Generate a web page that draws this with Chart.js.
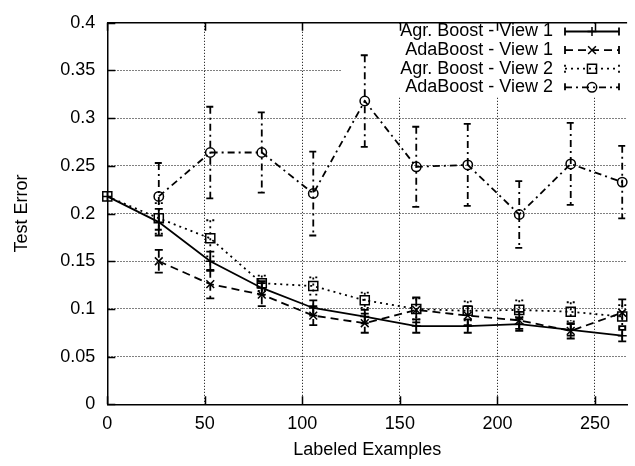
<!DOCTYPE html>
<html>
<head>
<meta charset="utf-8">
<script src="https://cdn.jsdelivr.net/npm/chart.js@4.4.1/dist/chart.umd.min.js"></script>
<style>
  html, body { margin: 0; padding: 0; background: #fff; }
  #wrap { width: 635px; height: 466px; }
</style>
</head>
<body>
<div id="wrap"><canvas id="chart" width="635" height="466"></canvas></div>
<script>
// number of labeled examples
var xValues = [0, 26.4, 52.8, 79.2, 105.6, 132, 158.4, 184.8, 211.2, 237.6, 264];

var seriesNames = ["Agr. Boost - View 1", "AdaBoost - View 1", "Agr. Boost - View 2", "AdaBoost - View 2"];

var agrView1    = [0.218, 0.191, 0.150, 0.122, 0.101, 0.092, 0.082, 0.082, 0.084, 0.078, 0.072];
var agrView1Err = [0, 0.014, 0.010, 0.007, 0.008, 0.007, 0.007, 0.007, 0.007, 0.006, 0.006];

var adaView1    = [null, 0.150, 0.126, 0.115, 0.093, 0.085, 0.099, 0.093, 0.088, 0.077, 0.096];
var adaView1Err = [null, 0.012, 0.015, 0.012, 0.010, 0.010, 0.013, 0.010, 0.009, 0.008, 0.014];

var agrView2    = [0.218, 0.195, 0.174, 0.127, 0.124, 0.109, 0.100, 0.098, 0.099, 0.097, 0.092];
var agrView2Err = [0, 0.016, 0.019, 0.008, 0.009, 0.008, 0.011, 0.010, 0.010, 0.010, 0.012];

var adaView2    = [null, 0.218, 0.264, 0.264, 0.221, 0.318, 0.249, 0.251, 0.199, 0.252, 0.233];
var adaView2Err = [null, 0.035, 0.048, 0.042, 0.044, 0.048, 0.042, 0.043, 0.035, 0.043, 0.038];

var xTickStep = 50;
var yTickStep = 0.05;

var FONT = "'Liberation Sans', Arial, sans-serif";

function points(vals, errs) {
    var out = [];
    for (var i = 0; i < xValues.length; i++) {
        if (vals[i] === null) continue;
        out.push({x: xValues[i], y: vals[i], err: errs[i]});
    }
    return out;
}

var styles = [
    {dash: [], point: 'cross', r: 4.5},
    {dash: [8, 5], point: 'crossRot', r: 5.5},
    {dash: [2, 4], point: 'rect', r: 6.4},
    {dash: [7, 4, 2, 4], point: 'circle', r: 4.7}
];
var allVals = [agrView1, adaView1, agrView2, adaView2];
var allErrs = [agrView1Err, adaView1Err, agrView2Err, adaView2Err];

var datasets = [];
for (var s = 0; s < 4; s++) {
    datasets.push({
        label: seriesNames[s],
        data: points(allVals[s], allErrs[s]),
        showLine: true,
        clip: false,
        borderColor: '#000',
        backgroundColor: 'rgba(0,0,0,0)',
        borderWidth: 1.8,
        borderDash: styles[s].dash,
        pointStyle: styles[s].point,
        pointRadius: styles[s].r,
        pointBorderWidth: 1.5,
        pointBorderColor: '#000',
        pointBackgroundColor: 'rgba(0,0,0,0)',
        tension: 0
    });
}

function markPoint(ctx, style, x, y) {
    ctx.save();
    ctx.setLineDash([]);
    ctx.lineWidth = 1.5;
    ctx.strokeStyle = '#000';
    ctx.fillStyle = 'rgba(0,0,0,0)';
    Chart.helpers.drawPoint(ctx, {pointStyle: style.point, radius: style.r, rotation: 0, borderWidth: 1.5}, x, y);
    ctx.restore();
}

var gnuplotLook = {
    id: 'gnuplotLook',
    beforeDatasetsDraw: function (chart) {
        // key box hides the grid behind it
        var ctx = chart.ctx, a = chart.chartArea;
        ctx.save();
        ctx.fillStyle = '#fff';
        ctx.fillRect(342, a.top + 1, a.right - 342, 95 - a.top);
        ctx.restore();
    },
    afterDatasetsDraw: function (chart) {
        var ctx = chart.ctx, a = chart.chartArea;
        var xs = chart.scales.x, ys = chart.scales.y;

        // error bars
        chart.data.datasets.forEach(function (ds, di) {
            var meta = chart.getDatasetMeta(di);
            ctx.save();
            ctx.strokeStyle = '#000';
            ctx.lineWidth = 1.8;
            ctx.setLineDash(ds.borderDash);
            meta.data.forEach(function (pt, i) {
                var e = ds.data[i].err;
                if (!e) return;
                var px = pt.x;
                var top = ys.getPixelForValue(ds.data[i].y + e);
                var bot = ys.getPixelForValue(ds.data[i].y - e);
                ctx.beginPath();
                ctx.moveTo(px, top); ctx.lineTo(px, bot);
                ctx.moveTo(px - 4, top); ctx.lineTo(px + 4, top);
                ctx.moveTo(px - 4, bot); ctx.lineTo(px + 4, bot);
                ctx.stroke();
            });
            ctx.restore();
        });

        // inward ticks and top border
        ctx.save();
        ctx.strokeStyle = '#000';
        ctx.lineWidth = 1.5;
        ctx.beginPath();
        ctx.moveTo(a.left, a.top); ctx.lineTo(a.right, a.top);
        xs.ticks.forEach(function (t) {
            var px = Math.round(xs.getPixelForValue(t.value)) + 0.5;
            ctx.moveTo(px, a.bottom); ctx.lineTo(px, a.bottom - 8);
            ctx.moveTo(px, a.top); ctx.lineTo(px, a.top + 8);
        });
        ys.ticks.forEach(function (t) {
            var py = Math.round(ys.getPixelForValue(t.value)) + 0.5;
            ctx.moveTo(a.left, py); ctx.lineTo(a.left + 8, py);
        });
        ctx.stroke();
        ctx.restore();

        // key
        ctx.save();
        ctx.font = '18px ' + FONT;
        ctx.fillStyle = '#000';
        ctx.textAlign = 'right';
        ctx.textBaseline = 'middle';
        for (var k = 0; k < 4; k++) {
            var y = 31.5 + k * 18.6;
            ctx.fillText(seriesNames[k], 553, y);
            ctx.save();
            ctx.strokeStyle = '#000';
            ctx.lineWidth = 1.8;
            ctx.setLineDash(styles[k].dash);
            ctx.beginPath();
            ctx.moveTo(565, y); ctx.lineTo(619, y);
            ctx.moveTo(565, y - 4); ctx.lineTo(565, y + 4);
            ctx.moveTo(619, y - 4); ctx.lineTo(619, y + 4);
            ctx.stroke();
            ctx.restore();
            markPoint(ctx, styles[k], 592, y);
        }
        ctx.restore();
    }
};

new Chart(document.getElementById('chart'), {
    type: 'scatter',
    data: {datasets: datasets},
    plugins: [gnuplotLook],
    options: {
        responsive: false,
        animation: false,
        layout: {padding: {top: 13.3, right: 0, bottom: 0, left: 0}},
        plugins: {legend: {display: false}, tooltip: {enabled: false}},
        scales: {
            x: {
                type: 'linear',
                min: 0,
                max: 266.5,
                afterFit: function (scale) { scale.height = 61.7; },
                ticks: {stepSize: xTickStep, includeBounds: false, padding: 9, color: '#000',
                        font: {family: FONT, size: 18}},
                grid: {color: '#000', lineWidth: 1, drawTicks: false},
                border: {display: true, color: '#000', width: 1.5, dash: [1, 2]},
                title: {display: true, text: 'Labeled Examples', color: '#000',
                        font: {family: FONT, size: 18, lineHeight: 1.2}, padding: {top: 0, bottom: 5}}
            },
            y: {
                min: 0,
                max: 0.4,
                afterFit: function (scale) { scale.width = 107.3; },
                ticks: {stepSize: yTickStep, padding: 12, color: '#000',
                        font: {family: FONT, size: 18},
                        callback: function (v) { return String(+v.toFixed(2)); }},
                grid: {color: '#000', lineWidth: 1, drawTicks: false},
                border: {display: true, color: '#000', width: 1.5, dash: [1, 2]},
                title: {display: true, text: 'Test Error', color: '#000',
                        font: {family: FONT, size: 18, lineHeight: 1.2}, padding: {top: 11, bottom: 0}}
            }
        }
    }
});
</script>
</body>
</html>
